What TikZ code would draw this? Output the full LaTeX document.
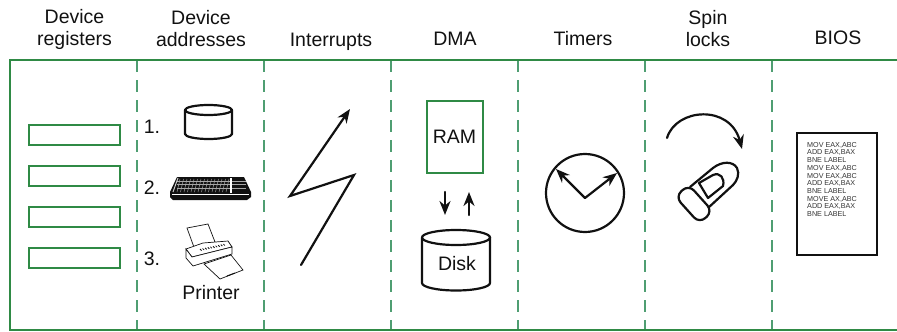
\documentclass[tikz,border=0pt]{standalone}
\usepackage{fontspec}
\setmainfont{Liberation Sans}
\usetikzlibrary{arrows.meta,calc}
\definecolor{framegreen}{HTML}{2F8A45}
\definecolor{dashgreen}{HTML}{4F9E72}
\definecolor{inkblack}{HTML}{111111}
\tikzset{
  heading/.style={align=center,font=\fontsize{19.5}{22}\selectfont,text=inkblack,inner sep=0pt},
  label/.style={font=\fontsize{19.5}{20}\selectfont,text=inkblack,inner sep=0pt},
  divider/.style={dashgreen,line width=1.6pt,dash pattern=on 12pt off 8pt},
  regbox/.style={draw=framegreen,line width=2pt,minimum width=91pt,minimum height=20pt,inner sep=0pt},
  ink/.style={draw=inkblack,line width=2.2pt,line join=round,line cap=round},
  tip/.style={-{Stealth[length=14pt,width=11pt]}},
  code/.style={font=\fontsize{7.2}{7.7}\selectfont,text=black!80,align=left,inner sep=0pt,anchor=north west}
}
\newcommand{\cylinder}[5]{% cx, top y, half-width, half-ellipse height, bottom y
  \draw[ink,fill=white] (#1-#3,#2) -- (#1-#3,#5) arc[start angle=180,end angle=0,x radius=#3,y radius=#4] -- (#1+#3,#2);
  \draw[ink] (#1,#2) ellipse[x radius=#3,y radius=#4];
}
\begin{document}
\begin{tikzpicture}[x=1pt,y=-1pt]
\useasboundingbox (0,0) rectangle (897,332);
% frame
\foreach \x in {137,264,391,518,645,772}
  \draw[divider] (\x,60) -- (\x,331);
\draw[framegreen,line width=2pt] (897,60) -- (10,60) -- (10,330) -- (897,330);
% headings
\node[heading] (h1) at (74.5,29) {Device\\registers};
\node[heading] (h2) at (201,29) {Device\\addresses};
\node[heading] (h3) at (331,41.5) {Interrupts};
\node[heading] (h4) at (455,38.5) {DMA};
\node[heading] (h5) at (583,38.5) {Timers};
\node[heading] (h6) at (708,29) {Spin\\locks};
\node[heading] (h7) at (838,38) {BIOS};
% registers
\node[regbox] (r1) at (74,135) {};
\node[regbox] (r2) at (74,176) {};
\node[regbox] (r3) at (74,217) {};
\node[regbox] (r4) at (74,258) {};
% addresses
\node[label] (n1) at (152,127) {1.};
\node[label] (n2) at (152,188) {2.};
\node[label] (n3) at (152,259) {3.};
\cylinder{208.5}{110}{23.5}{5}{134}
% keyboard
\fill[inkblack] (177,177) -- (244,177) -- (251,192) -- (251,197) -- (247,200) -- (173,200) -- (170,197) -- (170,192) -- cycle;
\fill[white] (172,193.5) -- (249,193.5) -- (249,195) -- (172,195) -- cycle;
\foreach \x in {180,183.5,...,232}
  \draw[white!65!black,line width=.5pt] (\x,179) -- (\x-3,192);
\foreach \y in {181,184.5,188}
  \draw[white!65!black,line width=.4pt] (177,\y) -- (246,\y);
\draw[white,line width=1.3pt] (231,178) -- (231,193);
\draw[white!80!black,line width=1pt] (178,178) -- (173,192);
% printer
\draw[inkblack,line width=.7pt,fill=white] (187,228) -- (208,224) -- (215,242) -- (195,250) -- cycle;
\draw[inkblack,line width=.7pt,fill=white] (186,249) -- (203,243) -- (228,241) -- (232,247) -- (192,257) -- cycle;
\draw[inkblack,line width=.7pt,fill=white] (186,249) -- (192,257) -- (232,247) -- (232,254) -- (193,266) -- (186,258) -- cycle;
\foreach \t in {0,.1,...,1}
  \draw[inkblack,line width=.8pt] ($(200,249)!\t!(226,243.5)$) -- ++(1.5,1.5);
\draw[inkblack,line width=.7pt,fill=white] (204,264) -- (231,255) -- (243,270) -- (220,279) -- cycle;
\draw[inkblack,line width=1pt] (227,276) -- (235,273);
\node[label] (prn) at (211,293) {Printer};
% interrupts
\coordinate (i1) at (301,265);
\coordinate (i2) at (354,175);
\coordinate (i3) at (290,196);
\coordinate (i4) at (350,109);
\draw[ink,line join=miter,tip] (i1) -- (i2) -- (i3) -- (i4);
% DMA
\node[draw=framegreen,line width=2pt,minimum width=56pt,minimum height=72pt,inner sep=0pt,label] (ram) at (454.5,137) {RAM};
\coordinate (ad1) at (445,192); \coordinate (ad2) at (445,215);
\coordinate (au1) at (469,215); \coordinate (au2) at (469,192);
\draw[ink,tip] (ad1) -- (ad2);
\draw[ink,tip] (au1) -- (au2);
\cylinder{456}{237.5}{34}{7.5}{283}
\node[label] (disk) at (457,264) {Disk};
% clock
\node[circle,draw=inkblack,line width=2.2pt,minimum size=78pt,inner sep=0pt] (clock) at (585,193) {};
\coordinate (hub) at (585,198);
\coordinate (hl) at (556,169);
\coordinate (hr) at (617,173);
\draw[ink,tip] (hub) -- (hl);
\draw[ink,tip] (hub) -- (hr);
% spin lock
\coordinate (s1) at (667,138);
\coordinate (s2) at (742,149);
\draw[ink,tip] (s1) .. controls (676,108) and (730,104) .. (s2);
\draw[ink] (690,187) -- (713,168) .. controls (722,161) and (733,161) .. (737,168) .. controls (740,174) and (737,181) .. (733,185) -- (708,208);
\draw[ink] (699,183) -- (713,175) .. controls (720,172) and (725,178) .. (723,186) -- (708,198) -- cycle;
\begin{scope}[shift={(694,204)},rotate=42]
  \draw[ink,fill=white,rounded corners=8pt] (-9,-18) rectangle (9,18);
\end{scope}
% BIOS
\node[draw=inkblack,line width=2.4pt,minimum width=80pt,minimum height=122pt,inner sep=0pt] (bios) at (837,194) {};
\node[code] (code) at (807,142) {MOV EAX,ABC\\ADD EAX,BAX\\BNE LABEL\\MOV EAX,ABC\\MOV EAX,ABC\\ADD EAX,BAX\\BNE LABEL\\MOVE AX,ABC\\ADD EAX,BAX\\BNE LABEL};
\end{tikzpicture}
\end{document}
